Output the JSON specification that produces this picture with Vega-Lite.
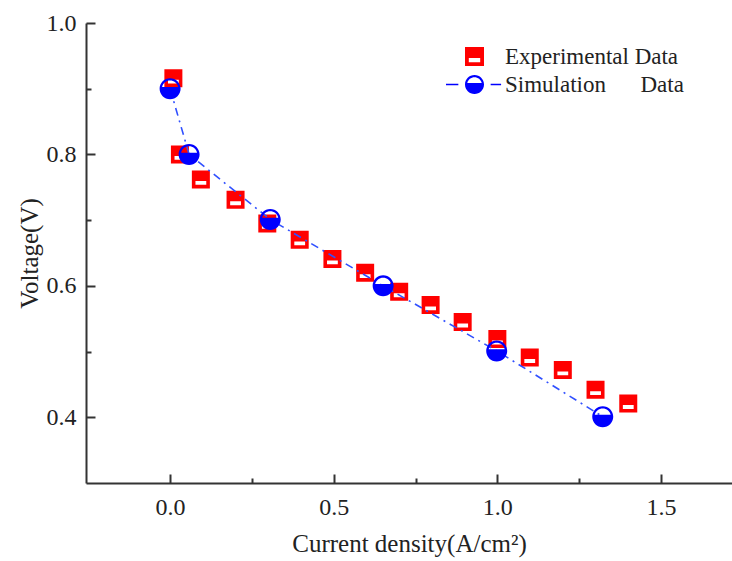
{
  "$schema": "https://vega.github.io/schema/vega-lite/v6.json",
  "autosize": "none",
  "width": 646,
  "height": 460,
  "padding": {"left": 86, "top": 23, "right": 0, "bottom": 78},
  "background": "white",
  "config": {
    "view": {"stroke": null},
    "font": "Liberation Serif",
    "axis": {
      "labelFont": "Liberation Serif",
      "titleFont": "Liberation Serif",
      "labelFontSize": 24,
      "titleFontSize": 25,
      "titleFontWeight": "normal",
      "labelColor": "#222",
      "titleColor": "#222",
      "domainColor": "#333",
      "domainWidth": 2,
      "tickColor": "#333",
      "tickWidth": 2,
      "grid": false
    }
  },
  "datasets": {
    "experimental": [
      {"j": 0.01, "v": 0.916, "series": "Experimental Data"},
      {"j": 0.03, "v": 0.8, "series": "Experimental Data"},
      {"j": 0.094, "v": 0.762, "series": "Experimental Data"},
      {"j": 0.2, "v": 0.731, "series": "Experimental Data"},
      {"j": 0.297, "v": 0.695, "series": "Experimental Data"},
      {"j": 0.396, "v": 0.67, "series": "Experimental Data"},
      {"j": 0.496, "v": 0.641, "series": "Experimental Data"},
      {"j": 0.596, "v": 0.62, "series": "Experimental Data"},
      {"j": 0.7, "v": 0.591, "series": "Experimental Data"},
      {"j": 0.796, "v": 0.571, "series": "Experimental Data"},
      {"j": 0.894, "v": 0.545, "series": "Experimental Data"},
      {"j": 1.0, "v": 0.519, "series": "Experimental Data"},
      {"j": 1.099, "v": 0.491, "series": "Experimental Data"},
      {"j": 1.2, "v": 0.472, "series": "Experimental Data"},
      {"j": 1.3, "v": 0.442, "series": "Experimental Data"},
      {"j": 1.4, "v": 0.421, "series": "Experimental Data"}
    ],
    "simulation": [
      {"j": 0.0, "v": 0.9, "series": "Simulation\u00a0\u00a0\u00a0\u00a0\u00a0 Data"},
      {"j": 0.058, "v": 0.8, "series": "Simulation\u00a0\u00a0\u00a0\u00a0\u00a0 Data"},
      {"j": 0.306, "v": 0.701, "series": "Simulation\u00a0\u00a0\u00a0\u00a0\u00a0 Data"},
      {"j": 0.651, "v": 0.6, "series": "Simulation\u00a0\u00a0\u00a0\u00a0\u00a0 Data"},
      {"j": 0.998, "v": 0.501, "series": "Simulation\u00a0\u00a0\u00a0\u00a0\u00a0 Data"},
      {"j": 1.322, "v": 0.401, "series": "Simulation\u00a0\u00a0\u00a0\u00a0\u00a0 Data"}
    ]
  },
  "layer": [
    {
      "data": {"name": "experimental"},
      "mark": {"type": "point", "filled": true, "opacity": 1, "size": 324},
      "encoding": {
        "x": {
          "field": "j", "type": "quantitative",
          "scale": {"domain": [-0.257, 1.717], "nice": false, "zero": false},
          "axis": {
            "orient": "bottom", "values": [0, 0.5, 1, 1.5], "format": ".1f", "ticks": false,
            "labelPadding": 12, "title": "Current density(A/cm²)", "titlePadding": 12
          }
        },
        "y": {
          "field": "v", "type": "quantitative",
          "scale": {"domain": [0.3, 1.0], "nice": false, "zero": false},
          "axis": {
            "orient": "left", "values": [0.4, 0.6, 0.8, 1.0], "format": ".1f", "ticks": false,
            "labelPadding": 10, "title": "Voltage(V)", "titlePadding": 4
          }
        },
        "color": {
          "field": "series", "type": "nominal",
          "scale": {"domain": ["Experimental Data", "Simulation\u00a0\u00a0\u00a0\u00a0\u00a0 Data"], "range": ["#ff0000", "#0000ff"]},
          "legend": {
            "title": null, "orient": "none", "legendX": 377, "legendY": 22,
            "padding": 0, "symbolSize": 361, "labelFont": "Liberation Serif", "labelFontSize": 23,
            "labelColor": "#222", "labelOffset": 19, "labelLimit": 0, "rowPadding": 4, "symbolStrokeWidth": 0
          }
        },
        "shape": {
          "field": "series", "type": "nominal",
          "scale": {
            "domain": ["Experimental Data", "Simulation\u00a0\u00a0\u00a0\u00a0\u00a0 Data"],
            "range": [
              "M -1 -1 L 1 -1 L 1 1 L -1 1 Z M -0.6 0.17 L -0.6 0.6 L 0.6 0.6 L 0.6 0.17 Z",
              "M 0 -1 A 1 1 0 1 1 0 1 A 1 1 0 1 1 0 -1 Z M 0.76 -0.17 A 0.78 0.78 0 0 0 -0.76 -0.17 Z M -3.0 -0.08 L -1.7 -0.08 L -1.7 0.08 L -3.0 0.08 Z M 1.7 -0.08 L 2.8 -0.08 L 2.8 0.08 L 1.7 0.08 Z"
            ]
          }
        }
      }
    },
    {
      "data": {"name": "simulation"},
      "mark": {"type": "line", "color": "#3050ff", "strokeWidth": 1.6, "strokeDash": [8, 5, 2, 5]},
      "encoding": {
        "x": {
          "field": "j", "type": "quantitative",
          "axis": {"orient": "bottom", "values": [0, 0.5, 1, 1.5], "labels": false, "tickSize": -9, "title": null, "domain": false}
        },
        "y": {
          "field": "v", "type": "quantitative",
          "axis": {"orient": "left", "values": [0.4, 0.6, 0.8, 1.0], "labels": false, "tickSize": -9, "title": null, "domain": false}
        }
      }
    },
    {
      "data": {"name": "simulation"},
      "mark": {
        "type": "point", "filled": true, "opacity": 1, "size": 441, "color": "#0000ff",
        "shape": "M 0 -1 A 1 1 0 1 1 0 1 A 1 1 0 1 1 0 -1 Z M 0.76 -0.17 A 0.78 0.78 0 0 0 -0.76 -0.17 Z"
      },
      "encoding": {
        "x": {
          "field": "j", "type": "quantitative",
          "axis": {"orient": "bottom", "values": [0.25, 0.75, 1.25], "labels": false, "tickSize": -5, "title": null, "domain": false}
        },
        "y": {
          "field": "v", "type": "quantitative",
          "axis": {"orient": "left", "values": [0.5, 0.7, 0.9], "labels": false, "tickSize": -5, "title": null, "domain": false}
        }
      }
    },
    {
      "mark": {"type": "rule", "color": "#333", "strokeWidth": 2},
      "encoding": {
        "y": {"datum": 1.0, "type": "quantitative", "axis": null}
      }
    }
  ],
  "resolve": {"axis": {"x": "independent", "y": "independent"}}
}
